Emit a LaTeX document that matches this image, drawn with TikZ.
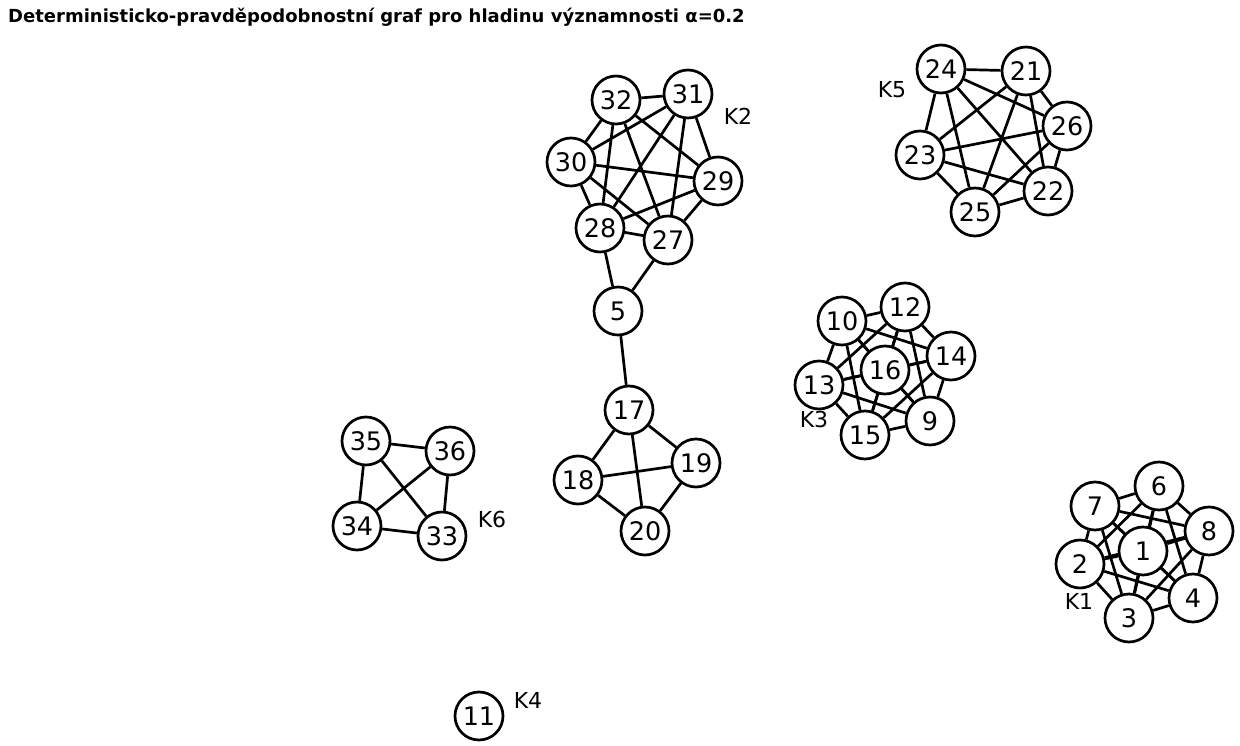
\documentclass[tikz,border=0pt]{standalone}
\usepackage{fontspec}
\setmainfont{DejaVu Sans}
\pgfdeclarelayer{bg}
\pgfsetlayers{bg,main}
\begin{document}
\begin{tikzpicture}[x=1pt,y=-1pt,
  vtx/.style={circle,draw=black,fill=white,line width=2.7pt,minimum size=48pt,inner sep=0pt,font=\fontsize{25.5}{28}\selectfont},
  edge/.style={line width=2.7pt},
  clabel/.style={font=\fontsize{22}{24}\selectfont}]
\useasboundingbox (0,0) rectangle (1240,746);
\node[anchor=west,inner sep=0pt,font=\bfseries\fontsize{18}{20}\selectfont] (title) at (8,17) {Deterministicko-pravděpodobnostní graf pro hladinu významnosti α=0.2};
% K2
\node[vtx] (n32) at (616,100) {32};
\node[vtx] (n31) at (688,94) {31};
\node[vtx] (n30) at (571,162) {30};
\node[vtx] (n29) at (718,181) {29};
\node[vtx] (n28) at (600,228) {28};
\node[vtx] (n27) at (668,240) {27};
\node[vtx] (n5) at (618,311) {5};
\node[vtx] (n17) at (629,410) {17};
\node[vtx] (n18) at (578,480) {18};
\node[vtx] (n19) at (696,463) {19};
\node[vtx] (n20) at (645,531) {20};
% K6
\node[vtx] (n35) at (366,441) {35};
\node[vtx] (n36) at (450,451) {36};
\node[vtx] (n34) at (357,526) {34};
\node[vtx] (n33) at (442,536) {33};
% K4
\node[vtx] (n11) at (479,716) {11};
% K5
\node[vtx] (n24) at (941,69) {24};
\node[vtx] (n21) at (1026,71) {21};
\node[vtx] (n26) at (1067,126) {26};
\node[vtx] (n23) at (920,155) {23};
\node[vtx] (n22) at (1048,191) {22};
\node[vtx] (n25) at (975,212) {25};
% K3
\node[vtx] (n10) at (842,321) {10};
\node[vtx] (n12) at (905,307) {12};
\node[vtx] (n14) at (951,356) {14};
\node[vtx] (n16) at (885,370) {16};
\node[vtx] (n13) at (819,385) {13};
\node[vtx] (n15) at (865,435) {15};
\node[vtx] (n9) at (930,421) {9};
% K1
\node[vtx] (n7) at (1095,506) {7};
\node[vtx] (n6) at (1159,486) {6};
\node[vtx] (n8) at (1209,531) {8};
\node[vtx] (n1) at (1143,551) {1};
\node[vtx] (n2) at (1080,564) {2};
\node[vtx] (n4) at (1193,598) {4};
\node[vtx] (n3) at (1129,618) {3};
% labels
\node[clabel] (lK2) at (738,116) {K2};
\node[clabel] (lK5) at (892,90) {K5};
\node[clabel] (lK3) at (814,419) {K3};
\node[clabel] (lK6) at (492,519) {K6};
\node[clabel] (lK1) at (1079,601) {K1};
\node[clabel] (lK4) at (528,700) {K4};
\begin{pgfonlayer}{bg}
\foreach \a/\b in {32/31,32/30,32/29,32/28,32/27,31/30,31/29,31/28,31/27,30/29,30/28,30/27,29/28,29/27,28/27,
  5/28,5/27,5/17,17/18,17/19,17/20,18/19,18/20,19/20,
  35/36,35/34,35/33,36/34,36/33,34/33,
  24/21,24/26,24/23,24/22,24/25,21/26,21/23,21/22,21/25,26/23,26/22,26/25,23/22,23/25,22/25,
  10/12,10/14,10/16,10/13,10/15,10/9,12/14,12/16,12/13,12/15,12/9,14/16,14/13,14/15,14/9,16/13,16/15,16/9,13/15,13/9,15/9,
  7/6,7/8,7/1,7/2,7/4,7/3,6/8,6/1,6/2,6/4,6/3,8/1,8/2,8/4,8/3,1/2,1/4,1/3,2/4,2/3,4/3}
  \draw[edge] (n\a) -- (n\b);
\end{pgfonlayer}
\end{tikzpicture}
\end{document}
